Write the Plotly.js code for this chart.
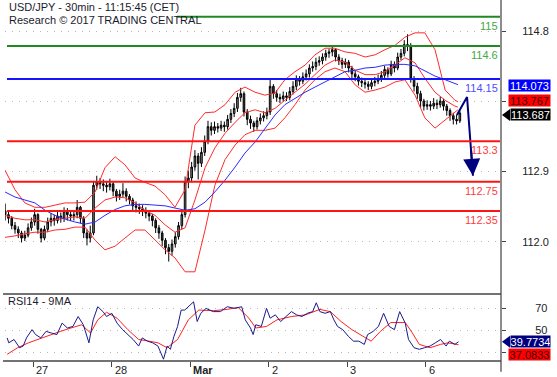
<!DOCTYPE html>
<html>
<head>
<meta charset="utf-8">
<script src="https://cdn.plot.ly/plotly-3.0.1.min.js"></script>
<style>
html,body{margin:0;padding:0;background:#fff;}
#chart{width:557px;height:377px;}
</style>
</head>
<body>
<div id="chart"></div>
<script>
// ---------- DATA ----------
// hours counted from Mon 27 Feb 00:00 (CET), trading hours only (weekend removed)
const dayTickHours = [0, 24, 48, 72, 96, 120];
const dayTickLabels = ['27', '28', '<b>Mar</b>', '2', '3', '6'];

const barStartHour = -8.5; // one bar per hour
const barOpen = [112.35,112.30,112.25,112.15,112.10,112.05,111.98,112.02,112.12,112.20,
112.30,112.10,111.98,112.10,112.20,112.25,112.22,112.28,112.25,112.35,
112.30,112.28,112.30,112.40,112.25,112.05,111.98,112.05,112.70,112.75,
112.72,112.70,112.68,112.72,112.62,112.55,112.58,112.62,112.55,112.50,
112.42,112.40,112.38,112.35,112.32,112.28,112.22,112.12,112.05,111.95,
111.85,111.80,111.90,112.00,112.15,112.30,112.75,112.80,112.95,113.10,
113.00,113.15,113.30,113.50,113.45,113.50,113.48,113.52,113.50,113.60,
113.68,113.75,113.90,113.95,113.70,113.60,113.55,113.50,113.58,113.62,
113.65,113.70,114.05,113.95,113.90,113.88,113.92,113.90,113.98,114.05,
114.15,114.12,114.18,114.22,114.30,114.32,114.38,114.40,114.45,114.50,
114.52,114.55,114.45,114.40,114.35,114.38,114.30,114.22,114.18,114.12,
114.10,114.08,114.05,114.10,114.12,114.15,114.20,114.28,114.22,114.35,
114.30,114.45,114.50,114.62,114.60,114.15,114.05,113.95,113.85,113.78,
113.80,113.78,113.82,113.80,113.85,113.78,113.72,113.65,113.60,113.58];
const barHigh = [112.45,112.36,112.28,112.20,112.14,112.08,112.08,112.18,112.26,112.38,
112.32,112.12,112.15,112.26,112.32,112.30,112.34,112.33,112.40,112.39,
112.34,112.36,112.50,112.42,112.28,112.10,112.15,112.76,112.83,112.80,
112.78,112.76,112.79,112.74,112.65,112.64,112.73,112.66,112.58,112.53,
112.48,112.45,112.43,112.40,112.36,112.31,112.25,112.16,112.08,111.98,
111.90,111.96,112.06,112.20,112.36,112.82,112.90,113.02,113.18,113.14,
113.22,113.38,113.58,113.56,113.57,113.55,113.58,113.57,113.66,113.74,
113.82,113.96,114.03,113.98,113.74,113.65,113.58,113.63,113.68,113.71,
113.76,114.14,114.08,114.00,113.95,113.98,113.97,114.04,114.12,114.20,
114.19,114.24,114.28,114.35,114.39,114.44,114.46,114.50,114.55,114.56,
114.60,114.57,114.49,114.44,114.43,114.41,114.33,114.27,114.21,114.17,
114.15,114.12,114.15,114.18,114.21,114.26,114.33,114.31,114.40,114.39,
114.51,114.56,114.68,114.76,114.64,114.19,114.10,113.99,113.88,113.86,
113.85,113.89,113.87,113.91,113.88,113.81,113.75,113.69,113.66,113.72];
const barLow = [112.22,112.18,112.10,112.04,111.98,111.92,111.94,111.99,112.08,112.15,
112.04,111.92,111.95,112.06,112.14,112.15,112.18,112.19,112.20,112.22,
112.21,112.22,112.25,112.18,111.98,111.88,111.92,112.02,112.64,112.65,
112.62,112.60,112.63,112.55,112.48,112.50,112.54,112.48,112.44,112.36,
112.33,112.31,112.28,112.25,112.21,112.14,112.05,111.97,111.87,111.76,
111.66,111.74,111.85,111.96,112.10,112.26,112.66,112.74,112.90,112.78,
112.95,113.10,113.26,113.38,113.40,113.42,113.44,113.43,113.46,113.55,
113.63,113.70,113.84,113.64,113.52,113.47,113.43,113.46,113.53,113.57,
113.60,113.66,113.88,113.84,113.82,113.84,113.85,113.86,113.94,114.00,
114.06,114.08,114.13,114.17,114.25,114.27,114.33,114.35,114.40,114.44,
114.46,114.39,114.34,114.29,114.30,114.24,114.16,114.12,114.06,114.04,
114.02,114.00,114.01,114.05,114.08,114.11,114.15,114.17,114.19,114.24,
114.27,114.41,114.46,114.53,114.10,113.98,113.88,113.76,113.72,113.73,
113.72,113.74,113.74,113.76,113.72,113.65,113.58,113.53,113.53,113.55];
const barClose = [112.30,112.25,112.15,112.10,112.05,111.98,112.02,112.12,112.20,112.30,
112.10,111.98,112.10,112.20,112.25,112.22,112.28,112.25,112.35,112.30,
112.28,112.30,112.40,112.25,112.05,111.98,112.05,112.70,112.75,112.72,
112.70,112.68,112.72,112.62,112.55,112.58,112.62,112.55,112.50,112.42,
112.40,112.38,112.35,112.32,112.28,112.22,112.12,112.05,111.95,111.85,
111.80,111.90,112.00,112.15,112.30,112.75,112.80,112.95,113.10,113.00,
113.15,113.30,113.50,113.45,113.50,113.48,113.52,113.50,113.60,113.68,
113.75,113.90,113.95,113.70,113.60,113.55,113.50,113.58,113.62,113.65,
113.70,114.05,113.95,113.90,113.88,113.92,113.90,113.98,114.05,114.15,
114.12,114.18,114.22,114.30,114.32,114.38,114.40,114.45,114.50,114.52,
114.55,114.45,114.40,114.35,114.38,114.30,114.22,114.18,114.12,114.10,
114.08,114.05,114.10,114.12,114.15,114.20,114.28,114.22,114.35,114.30,
114.45,114.50,114.62,114.60,114.15,114.05,113.95,113.85,113.78,113.80,
113.78,113.82,113.80,113.85,113.78,113.72,113.65,113.60,113.58,113.687];

// indicator readings (hours, values)
const bandHours = [-8.6,-5.5,-2.5,0.6,3.7,6.7,9.8,12.8,15.9,19.0,22.0,25.1,28.1,31.2,34.2,37.3,40.4,43.4,46.5,49.5,
52.6,55.6,58.7,61.8,64.8,67.9,70.9,74.0,77.0,80.1,83.2,86.2,89.3,92.3,95.4,98.5,101.5,104.6,107.6,110.7,
113.7,116.8,119.8,122.9,126.0,129.0,129.9];
const bbUpper = [112.91,112.64,112.46,112.40,112.40,112.43,112.46,112.46,112.47,112.61,112.94,113.09,112.98,112.80,112.74,112.69,112.57,112.40,112.64,113.52,
113.69,113.70,113.80,113.97,114.04,113.97,113.93,113.96,114.14,114.25,114.34,114.48,114.57,114.57,114.52,114.50,114.45,114.48,114.55,114.61,
114.72,114.78,114.78,114.55,114.00,113.86,113.84];
const bbMiddle = [112.29,112.25,112.23,112.23,112.20,112.23,112.25,112.27,112.25,112.39,112.50,112.54,112.53,112.46,112.36,112.29,112.16,112.06,112.12,112.50,
112.94,113.21,113.41,113.56,113.69,113.73,113.69,113.75,113.86,113.97,114.08,114.21,114.34,114.41,114.38,114.27,114.21,114.21,114.25,114.34,
114.44,114.37,114.16,113.97,113.86,113.78,113.767];
const bbLower = [111.99,112.01,112.04,112.06,112.06,112.09,112.10,112.13,112.13,111.95,111.82,111.87,111.98,112.09,112.09,111.95,111.82,111.71,111.52,111.52,
112.09,112.70,113.05,113.25,113.39,113.45,113.45,113.48,113.62,113.80,114.00,114.14,114.25,114.30,114.25,114.07,113.97,114.00,114.04,114.11,
114.14,113.93,113.62,113.48,113.59,113.70,113.73];
const maBlue = [112.61,112.54,112.50,112.46,112.36,112.29,112.24,112.20,112.17,112.20,112.29,112.37,112.42,112.44,112.44,112.43,112.42,112.39,112.36,112.38,
112.47,112.61,112.77,112.95,113.14,113.29,113.48,113.66,113.80,113.89,113.97,114.04,114.11,114.18,114.25,114.27,114.30,114.31,114.34,114.35,
114.35,114.33,114.26,114.19,114.14,114.08,114.073];

const rsiHours = [-7.9,-7.4,-5.8,-4.1,-3.0,-2.0,-0.3,0.8,2.4,4.0,5.6,7.3,8.9,10.5,12.2,13.8,15.4,17.1,18.4,19.8,
21.4,22.5,24.1,25.7,27.4,29.0,30.6,32.3,33.4,35.0,36.6,38.2,39.9,41.0,42.0,43.1,44.2,45.3,46.4,48.0,
49.1,50.2,51.3,52.9,55.1,57.3,59.4,61.6,63.8,64.9,66.5,67.3,68.1,69.8,71.4,72.5,74.1,75.7,77.4,79.0,
80.6,82.2,83.9,85.5,86.6,87.7,89.3,90.9,92.0,93.1,94.7,96.4,98.0,99.6,101.3,102.3,104.0,105.6,107.2,108.9,
110.5,112.1,113.8,114.8,116.5,118.1,119.7,121.4,123.0,124.6,126.3,127.3,129.0,130.1];
const rsiValues = [43.2,38.8,41.8,34.4,35.9,43.2,50.6,46.2,43.2,49.1,47.6,46.2,56.5,52.1,53.5,62.4,55.0,38.8,59.4,71.2,
66.8,62.4,65.3,56.5,50.6,46.2,41.8,35.9,43.2,40.3,38.8,35.9,24.1,35.9,33.0,44.7,53.5,68.2,68.2,72.6,
75.6,57.9,65.3,69.7,66.8,66.8,71.2,69.7,71.2,59.4,52.1,46.2,55.0,53.5,69.7,60.9,63.9,57.9,62.4,66.8,
63.9,62.4,65.3,66.8,74.7,66.8,65.3,66.8,59.4,53.5,50.6,44.7,40.3,40.3,37.4,46.2,49.1,53.5,65.3,53.5,
50.6,66.8,56.5,41.8,34.4,33.0,34.4,35.9,38.8,41.8,35.9,40.3,37.4,39.7734];
const rsiMaHours = [-7.9,-4.7,-1.4,1.8,5.1,8.4,11.6,14.9,17.6,19.8,22.5,25.7,29.0,32.3,35.5,38.2,41.0,44.2,47.5,50.7,
55.1,59.4,62.7,66.0,68.1,71.4,74.6,79.0,83.3,87.7,90.9,94.2,97.5,100.7,103.4,106.2,109.4,113.8,116.0,118.1,
121.4,124.6,126.8,130.1];
const rsiMaValues = [28.5,34.4,38.8,42.3,46.2,49.1,52.1,55.0,47.6,59.4,66.2,60.9,50.6,41.8,40.3,38.8,34.4,41.8,59.4,68.2,
67.6,68.8,70.6,60.9,52.1,53.5,59.4,62.4,63.9,68.8,66.8,57.9,50.6,44.7,40.3,49.1,57.0,57.0,47.6,37.4,
34.4,37.4,38.8,37.0833];

// analyst levels
const levelValues = [115, 114.6, 114.15, 113.3, 112.75, 112.35];
const levelLabels = ['115', '114.6', '114.15', '113.3', '112.75', '112.35'];
// projected path
const projHours = [129.6, 132.7, 134.5];
const projValues = [113.66, 113.905, 112.83];

// price-axis ticks
const priceTickVals = [114.8, 113.845, 112.89, 111.93];
const priceTickText = ['114.8', '', '112.9', '112.0'];
const rsiTickVals = [30, 50, 70];
const rsiTickText = ['', '50', '70'];

const lastPrice = 113.687, lastMA = 114.073, lastMid = 113.767;
const lastRsi = 39.7734, lastRsiMa = 37.0833;

// ---------- DRAW ----------
const barHours = barClose.map((_, i) => barStartHour + i);
const FONT = 'Arial, "Liberation Sans", sans-serif';

const traces = [
  {type:'scatter', mode:'lines', x:bandHours, y:bbUpper, line:{color:'#ff2a2a', width:1}, hoverinfo:'skip'},
  {type:'scatter', mode:'lines', x:bandHours, y:bbLower, line:{color:'#ff2a2a', width:1}, hoverinfo:'skip'},
  {type:'scatter', mode:'lines', x:bandHours, y:bbMiddle, line:{color:'#ff2a2a', width:1}, hoverinfo:'skip'},
  {type:'scatter', mode:'lines', x:bandHours, y:maBlue, line:{color:'#2a2aff', width:1}, hoverinfo:'skip'},
  {type:'candlestick', x:barHours, open:barOpen, high:barHigh, low:barLow, close:barClose,
   increasing:{line:{color:'#000', width:1}, fillcolor:'#8a8a8a'},
   decreasing:{line:{color:'#000', width:1}, fillcolor:'#3a3a3a'},
   whiskerwidth:0, hoverinfo:'skip'},
  {type:'scatter', mode:'lines', x:projHours, y:projValues, line:{color:'#00007f', width:2}, hoverinfo:'skip'},
  {type:'scatter', mode:'lines', x:rsiMaHours, y:rsiMaValues, yaxis:'y2', line:{color:'#ff2020', width:1}, hoverinfo:'skip'},
  {type:'scatter', mode:'lines', x:rsiHours, y:rsiValues, yaxis:'y2', line:{color:'#1a1a8c', width:1}, hoverinfo:'skip'}
];

const levelColors = ['#1f8a1f', '#1f8a1f', '#1414ff', '#ff1414', '#ff1414', '#ff1414'];
const levelTextColors = ['#44a844', '#44a844', '#4d4dff', '#ff3b3b', '#ff3b3b', '#ff3b3b'];
const levelStart = [0.347, 0.004, 0.004, 0.004, 0.004, 0.004];

const shapes = [];
const annotations = [];
levelValues.forEach((v, i) => {
  shapes.push({type:'line', xref:'paper', yref:'y', x0:levelStart[i], x1:1, y0:v, y1:v,
    line:{color:levelColors[i], width:2}});
  annotations.push({xref:'paper', yref:'y', x:1, y:v, xanchor:'right', yanchor:'top', xshift:-1, yshift:-1,
    text:levelLabels[i], showarrow:false, font:{family:FONT, size:11, color:levelTextColors[i]}});
});

// right axis line, full height
shapes.push({type:'line', xref:'paper', yref:'paper', x0:1, x1:1, y0:-0.03, y1:1, line:{color:'#8c8c8c', width:2}});
// RSI panel frame (top/bottom)
shapes.push({type:'line', xref:'paper', yref:'paper', x0:-0.004, x1:1, y0:0.1856, y1:0.1856, line:{color:'#444', width:1.5}});
shapes.push({type:'line', xref:'paper', yref:'paper', x0:-0.004, x1:1, y0:0, y1:0, line:{color:'#444', width:1.5}});

// pointer triangles for last price and last RSI
shapes.push({type:'path', xref:'paper', yref:'y', xsizemode:'pixel', ysizemode:'pixel', xanchor:1, yanchor:lastPrice,
  path:'M 1 -2 L 9 4 L 9 -8 Z', fillcolor:'#000', line:{width:0}});
shapes.push({type:'path', xref:'paper', yref:'y2', xsizemode:'pixel', ysizemode:'pixel', xanchor:1, yanchor:lastRsi,
  path:'M 1 0 L 9 6 L 9 -6 Z', fillcolor:'#00007f', line:{width:0}});

function box(yref, yval, yshift, xshift, w, bg, fg, txt) {
  return {xref:'paper', yref:yref, x:1, y:yval, xanchor:'left', yanchor:'middle', xshift:xshift, yshift:yshift,
    text:txt, showarrow:false, bgcolor:bg, width:w, height:11, borderpad:0, align:'center',
    font:{family:FONT, size:11, color:fg}};
}
annotations.push(box('y', lastMA, -1, 7, 41, '#0000ff', '#ffffff', lastMA.toFixed(3)));
annotations.push(box('y', lastMid, 7, 7, 41, '#ff0000', '#3a0000', lastMid.toFixed(3)));
annotations.push(box('y', lastPrice, -2, 9, 39, '#000000', '#ffffff', lastPrice.toFixed(3)));
annotations.push(box('y2', lastRsi, 0, 9, 39, '#00007f', '#ffffff', lastRsi.toFixed(4)));
annotations.push(box('y2', lastRsiMa, -10, 7, 41, '#ff0000', '#3a0000', lastRsiMa.toFixed(4)));

// projection arrow head
annotations.push({xref:'x', yref:'y', axref:'x', ayref:'y', x:projHours[2], y:projValues[2],
  ax:133.9, ay:113.2, showarrow:true, arrowhead:2, arrowsize:1.7, arrowwidth:2, arrowcolor:'#00007f', text:''});

// date labels (placed just right of each day tick)
dayTickHours.forEach((h, i) => {
  annotations.push({xref:'x', yref:'paper', x:h, y:0, xanchor:'left', yanchor:'top', xshift:1, yshift:-1,
    text:dayTickLabels[i], showarrow:false, font:{family:FONT, size:11, color:'#222'}});
});

// titles
annotations.push({xref:'paper', yref:'paper', x:0, y:1, xanchor:'left', yanchor:'middle', xshift:2, yshift:-7,
  text:'USD/JPY - 30min - 11:15:45 (CET)', showarrow:false, font:{family:FONT, size:11, color:'#1a1a2e'}});
annotations.push({xref:'paper', yref:'paper', x:0, y:1, xanchor:'left', yanchor:'middle', xshift:2, yshift:-20,
  text:'Research © 2017 TRADING CENTRAL', showarrow:false, font:{family:FONT, size:11, color:'#1a1a2e'}});
annotations.push({xref:'paper', yref:'paper', x:0, y:0.1856, xanchor:'left', yanchor:'middle', xshift:1, yshift:-7,
  text:'RSI14 - 9MA', showarrow:false, font:{family:FONT, size:11, color:'#1a1a2e'}});

const layout = {
  width:557, height:377,
  margin:{l:5, r:56, t:0, b:16, pad:0},
  paper_bgcolor:'#ffffff', plot_bgcolor:'#ffffff',
  showlegend:false, hovermode:false,
  font:{family:FONT, size:11, color:'#222'},
  xaxis:{type:'linear', range:[-8.56, 143.08], anchor:'y2', showgrid:false, zeroline:false, showline:false,
    tickvals:dayTickHours, ticks:'outside', ticklen:5, tickcolor:'#444', tickwidth:1,
    showticklabels:false, rangeslider:{visible:false}, fixedrange:true},
  yaxis:{domain:[0.1967, 1], range:[111.272, 115.228], side:'right', showgrid:true, gridcolor:'#b8b8b8',
    griddash:'1px,6px', gridwidth:1, zeroline:false, showline:false,
    tickvals:priceTickVals, ticktext:priceTickText, ticks:'outside', ticklen:4, tickcolor:'#444',
    ticklabelstandoff:14, tickfont:{family:FONT, size:11, color:'#222'}, fixedrange:true},
  yaxis2:{domain:[0, 0.1856], range:[22.5, 82.6], side:'right', showgrid:true, gridcolor:'#b8b8b8',
    griddash:'1px,6px', gridwidth:1, zeroline:false, showline:false,
    tickvals:rsiTickVals, ticktext:rsiTickText, ticks:'outside', ticklen:4, tickcolor:'#444',
    ticklabelstandoff:27, tickfont:{family:FONT, size:11, color:'#222'}, fixedrange:true},
  shapes:shapes,
  annotations:annotations
};

Plotly.newPlot('chart', traces, layout, {displayModeBar:false, staticPlot:true});
</script>
</body>
</html>
